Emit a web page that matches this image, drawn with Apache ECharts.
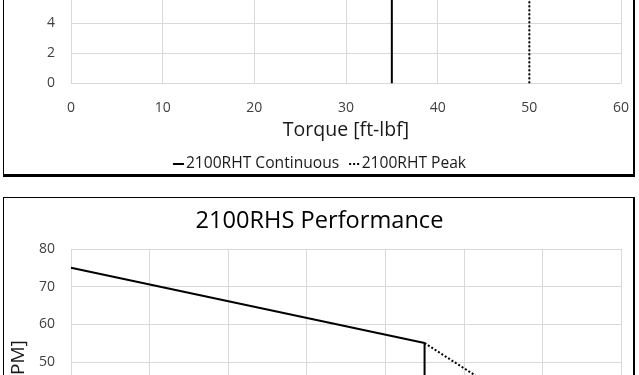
<!DOCTYPE html>
<html><head><meta charset="utf-8">
<script src="https://cdn.jsdelivr.net/npm/echarts@6/dist/echarts.min.js"></script>
<style>html,body{margin:0;padding:0;background:#fff}#c{width:639px;height:375px}</style>
</head><body><div id="c"></div>
<script>
// ---- data ----
const rhtTorqueTicks = [0, 10, 20, 30, 40, 50, 60];
const rhtSpeedTicks = [0, 2, 4, 6];
const rhtContinuous = [[35, 0], [35, 6]];
const rhtPeak = [[50, 0], [50, 6]];
const rhsTorqueTicks = [0, 10, 20, 30, 40, 50, 60, 70];
const rhsSpeedTicks = [0, 10, 20, 30, 40, 50, 60, 70, 80];
const rhsContinuous = [[0, 75], [45, 55], [45, 0]];
const rhsPeak = [[45, 55], [60, 35], [60, 0]];
const seriesNames = ['2100RHT Continuous', '2100RHT Peak', '2100RHS Continuous', '2100RHS Peak'];
const chartTitle = '2100RHS Performance';
const xName = 'Torque [ft-lbf]';
const yName = 'Speed [RPM]';

// ---- styling ----
const FONT = 'Open Sans';
const gridGrey = '#d9d9d9';
const tickColor = '#404040';
function rng(t) { return { min: t[0], max: t[t.length - 1], interval: t[1] - t[0] }; }
function xAxis(idx, ticks, withName) {
  return Object.assign({
    type: 'value', gridIndex: idx,
    axisLine: { show: true, lineStyle: { color: gridGrey, width: 1 } },
    axisTick: { show: false },
    splitLine: { show: true, lineStyle: { color: gridGrey, width: 1 } },
    axisLabel: { color: tickColor, fontFamily: FONT, fontSize: 14, margin: 18 },
    name: withName ? xName : '', nameLocation: 'middle', nameGap: 37,
    nameTextStyle: { color: '#1a1a1a', fontFamily: FONT, fontSize: 19.5 }
  }, rng(ticks));
}
function yAxis(idx, ticks, withName) {
  return Object.assign({
    type: 'value', gridIndex: idx,
    axisLine: { show: false },
    axisTick: { show: false },
    splitLine: { show: true, lineStyle: { color: gridGrey, width: 1 } },
    axisLabel: { color: tickColor, fontFamily: FONT, fontSize: 14, margin: 16 },
    name: withName ? yName : '', nameLocation: 'middle', nameGap: 38,
    nameTextStyle: { color: '#1a1a1a', fontFamily: FONT, fontSize: 19, padding: [0, 0, 0, 6] }
  }, rng(ticks));
}
function line(name, data, xi, dotted) {
  return {
    name: name, type: 'line', xAxisIndex: xi, yAxisIndex: xi, data: data,
    symbol: 'none', animation: false, silent: true,
    lineStyle: { color: '#000', width: 2, type: dotted ? [2, 2] : 'solid', cap: 'butt' },
    itemStyle: { color: '#000' }
  };
}

const chart = echarts.init(document.getElementById('c'), null, { renderer: 'canvas' });
chart.setOption({
  backgroundColor: '#fff',
  animation: false,
  title: {
    text: chartTitle, left: 'center', top: 209, padding: 0,
    textStyle: { color: '#000', fontFamily: FONT, fontSize: 23.6, fontWeight: 'normal' }
  },
  legend: {
    data: [
      { name: seriesNames[0], icon: 'rect' },
      { name: seriesNames[1], icon: 'path://M0 0h2v2H0zM4 0h2v2H4zM8 0h2v2H8z' }
    ],
    left: 'center', top: 156, padding: 0,
    itemWidth: 11, itemHeight: 2, itemGap: 10,
    itemStyle: { color: '#000', borderWidth: 0 },
    textStyle: { color: '#1a1a1a', fontFamily: FONT, fontSize: 15.6, padding: [0, 0, 0, -3] }
  },
  grid: [
    { left: 71, width: 550, top: -7.2, height: 90.5, containLabel: false, outerBoundsMode: 'none' },
    { left: 71, width: 550, top: 249, height: 301, containLabel: false, outerBoundsMode: 'none' }
  ],
  xAxis: [xAxis(0, rhtTorqueTicks, true), xAxis(1, rhsTorqueTicks, false)],
  yAxis: [yAxis(0, rhtSpeedTicks, false), yAxis(1, rhsSpeedTicks, true)],
  series: [
    line(seriesNames[0], rhtContinuous, 0, false),
    line(seriesNames[1], rhtPeak, 0, true),
    line(seriesNames[2], rhsContinuous, 1, false),
    line(seriesNames[3], rhsPeak, 1, true)
  ],
  graphic: [
    // top chart frame (left thin, right/bottom heavier)
    { type: 'rect', shape: { x: 3, y: -5, width: 1, height: 181 }, style: { fill: '#000' }, silent: true },
    { type: 'rect', shape: { x: 633, y: -5, width: 2, height: 181 }, style: { fill: '#000' }, silent: true },
    { type: 'rect', shape: { x: 3, y: 174, width: 632, height: 3 }, style: { fill: '#000' }, silent: true },
    // bottom chart frame
    { type: 'rect', shape: { x: 3, y: 197, width: 632, height: 1 }, style: { fill: '#000' }, silent: true },
    { type: 'rect', shape: { x: 3, y: 197, width: 1, height: 190 }, style: { fill: '#000' }, silent: true },
    { type: 'rect', shape: { x: 633, y: 197, width: 2, height: 190 }, style: { fill: '#000' }, silent: true }
  ]
});
</script></body></html>
